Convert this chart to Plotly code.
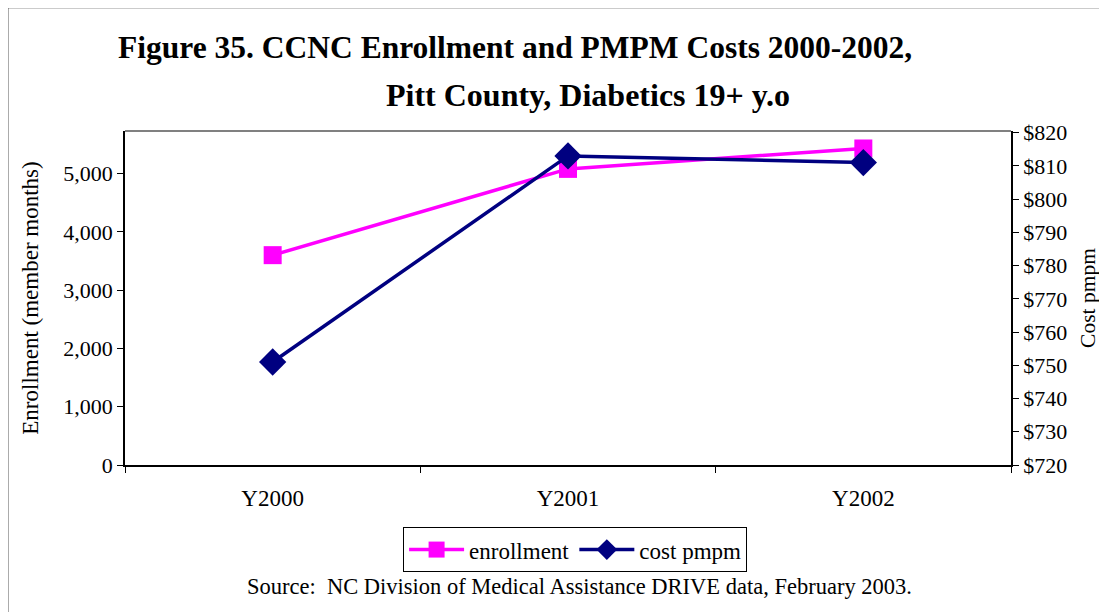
import plotly.graph_objects as go

years = ["Y2000", "Y2001", "Y2002"]
enrollment = [3600, 5080, 5430]
cost_pmpm = [751, 813, 811]

left_ticks = [0, 1000, 2000, 3000, 4000, 5000]
right_ticks = [720, 730, 740, 750, 760, 770, 780, 790, 800, 810, 820]

serif = "Liberation Serif, Times New Roman, serif"

fig = go.Figure()
fig.add_trace(go.Scatter(x=years, y=enrollment, name="enrollment",
                         mode="lines+markers",
                         line=dict(color="#FF00FF", width=3.5),
                         marker=dict(symbol="square", size=18, color="#FF00FF")))
fig.add_trace(go.Scatter(x=years, y=cost_pmpm, name="cost pmpm", yaxis="y2",
                         mode="lines+markers",
                         line=dict(color="#000080", width=3.5),
                         marker=dict(symbol="diamond", size=21, color="#000080")))

# page body has an 8px margin, so the figure is shifted by 8px in the window
fig.update_layout(
    width=1107, height=612,
    margin=dict(l=117, r=104, t=123, b=155),
    paper_bgcolor="white", plot_bgcolor="white",
    font=dict(family=serif, size=22, color="black"),
    showlegend=True,
    legend=dict(orientation="h", x=0.508, xanchor="center", y=-0.186, yanchor="top",
                bordercolor="black", borderwidth=1, font=dict(family=serif, size=23),
                itemwidth=55, tracegroupgap=0),
    xaxis=dict(type="category", range=[-0.5, 2.5], tickson="boundaries",
               ticks="outside", ticklen=6, tickcolor="black",
               tickfont=dict(family=serif, size=23),
               showline=True, linecolor="black", linewidth=1.5,
               showgrid=False, zeroline=False, ticklabelstandoff=12),
    yaxis=dict(range=[0, 5730], tickvals=left_ticks,
               ticktext=[f"{v:,}" for v in left_ticks],
               ticks="outside", ticklen=6, tickcolor="black",
               showline=True, linecolor="black", linewidth=1.5,
               showgrid=False, zeroline=False,
               title=dict(text="Enrollment (member months)", standoff=18,
                          font=dict(family=serif, size=23))),
    yaxis2=dict(range=[720, 820.5], tickvals=right_ticks,
                ticktext=[f"${v}" for v in right_ticks],
                overlaying="y", side="right",
                ticks="outside", ticklen=6, tickcolor="black",
                showline=True, linecolor="black", linewidth=1.5,
                showgrid=False, zeroline=False,
                title=dict(text="Cost pmpm", standoff=14,
                           font=dict(family=serif, size=21.5))),
)

# plot area border (top edge) and outer chart frame
fig.add_shape(type="line", xref="paper", yref="paper", x0=0, x1=1, y0=1, y1=1,
              line=dict(color="#808080", width=2))
fig.add_shape(type="rect", xref="paper", yref="paper",
              x0=-0.133, x1=1.3, y0=-0.6, y1=1.371,
              line=dict(color="#333333", width=2.5), layer="below")

fig.add_annotation(text="<b>Figure 35. CCNC Enrollment and PMPM Costs 2000-2002,</b>",
                   xref="paper", yref="paper", x=0.44, y=1.249, xanchor="center",
                   yanchor="middle", showarrow=False,
                   font=dict(family=serif, size=31.5, color="black"))
fig.add_annotation(text="<b>Pitt County, Diabetics 19+ y.o</b>",
                   xref="paper", yref="paper", x=0.5226, y=1.108, xanchor="center",
                   yanchor="middle", showarrow=False,
                   font=dict(family=serif, size=32, color="black"))
fig.add_annotation(text="Source:  NC Division of Medical Assistance DRIVE data, February 2003.",
                   xref="paper", yref="paper", x=0.5135, y=-0.365, xanchor="center",
                   yanchor="middle", showarrow=False,
                   font=dict(family=serif, size=22.5, color="black"))

fig.write_html("out.html")
